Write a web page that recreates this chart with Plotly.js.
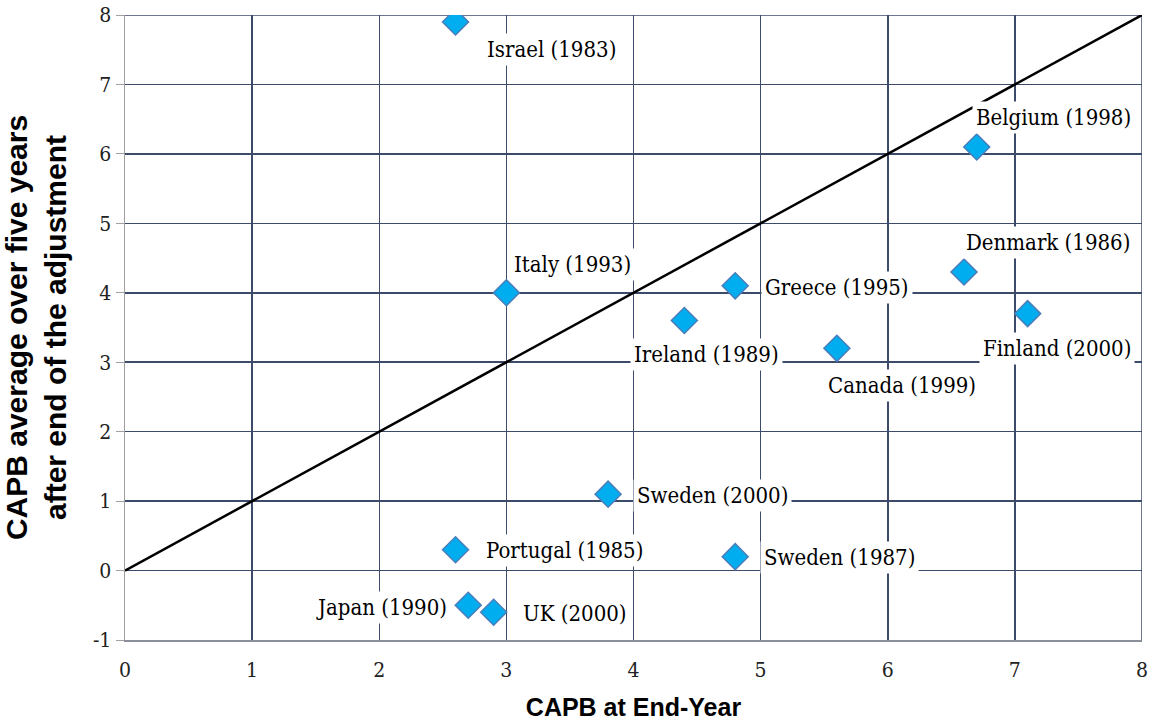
<!DOCTYPE html>
<html>
<head>
<meta charset="utf-8">
<script src="https://cdn.plot.ly/plotly-3.0.1.min.js"></script>
<style>
html,body{margin:0;padding:0;background:#fff;}
#chart{width:1150px;height:724px;}
</style>
</head>
<body>
<div id="chart"></div>
<script>
// ---- data ----
const countries = ["Israel (1983)","Belgium (1998)","Italy (1993)","Greece (1995)","Ireland (1989)","Denmark (1986)","Finland (2000)","Canada (1999)","Sweden (2000)","Portugal (1985)","Sweden (1987)","Japan (1990)","UK (2000)"];
const capbEndYear = [2.6, 6.7, 3.0, 4.8, 4.4, 6.6, 7.1, 5.6, 3.8, 2.6, 4.8, 2.7, 2.9];
const capbFiveYearAvg = [7.9, 6.1, 4.0, 4.1, 3.6, 4.3, 3.7, 3.2, 1.1, 0.3, 0.2, -0.5, -0.6];
const diagonalX = [0, 8];
const diagonalY = [0, 8];
const xTicks = [0,1,2,3,4,5,6,7,8];
const yTicks = [-1,0,1,2,3,4,5,6,7,8];

// ---- label placement (pixels relative to each marker) ----
const labelPlacement = [
  {anchor:"left",  dx: 27, dy: -28},
  {anchor:"left",  dx: -5, dy:  29},
  {anchor:"left",  dx:  4, dy:  28},
  {anchor:"left",  dx: 26, dy:  -2},
  {anchor:"center",dx: 22, dy: -34},
  {anchor:"left",  dx: -2, dy:  29},
  {anchor:"center",dx: 29, dy: -35},
  {anchor:"left",  dx:-13, dy: -37},
  {anchor:"left",  dx: 25, dy:  -1},
  {anchor:"left",  dx: 26, dy:  -1},
  {anchor:"left",  dx: 25, dy:  -1},
  {anchor:"right", dx:-17, dy:  -2},
  {anchor:"left",  dx: 25, dy:  -1}
];

const serifFamily = "'DejaVu Serif Condensed','DejaVu Serif',serif";
const labelFont = {family:serifFamily, size:22, color:"#000"};
const gridColor = "#3d4b6b";

const traces = [
  {
    x: diagonalX, y: diagonalY, type:"scatter", mode:"lines",
    line:{color:"#000", width:2.5}, hoverinfo:"skip", showlegend:false
  },
  {
    x: capbEndYear, y: capbFiveYearAvg, text: countries, type:"scatter", mode:"markers",
    marker:{symbol:"diamond", size:20, color:"#00aeef", line:{color:"#4a7ebb", width:1.5}},
    showlegend:false
  }
];

const annotations = countries.map((c,i)=>({
  x: capbEndYear[i], y: capbFiveYearAvg[i], xref:"x", yref:"y",
  text: c, showarrow:false,
  xanchor: labelPlacement[i].anchor, yanchor:"middle",
  xshift: labelPlacement[i].dx, yshift: labelPlacement[i].dy,
  bgcolor:"#ffffff", borderpad:3,
  font: labelFont
}));

const layout = {
  width:1150, height:724,
  margin:{l:125, r:8, t:15, b:84},
  paper_bgcolor:"#fff", plot_bgcolor:"#fff",
  showlegend:false,
  xaxis:{
    range:[0,8], tickvals:xTicks, ticktext:xTicks.map(String),
    showgrid:true, gridcolor:gridColor, gridwidth:1.5,
    zeroline:false, showline:true, linecolor:"#8a8f99", linewidth:1.5,
    ticks:"outside", ticklen:10, tickcolor:"rgba(0,0,0,0)",
    tickfont:{family:serifFamily, size:21, color:"#222"},
    title:{text:"CAPB at End-Year", standoff:18,
      font:{family:"Arial, 'Liberation Sans', sans-serif", size:25, color:"#000", weight:"bold"}},
    fixedrange:true
  },
  yaxis:{
    range:[-1,8], tickvals:yTicks, ticktext:yTicks.map(String),
    showgrid:true, gridcolor:gridColor, gridwidth:1.5,
    zeroline:false, showline:true, linecolor:"#a0a0a0", linewidth:1.5,
    ticks:"outside", ticklen:8, tickcolor:"#a0a0a0", tickwidth:1,
    tickfont:{family:serifFamily, size:21, color:"#222"},
    title:{text:"CAPB average over five years<br>after end of the adjustment", standoff:18,
      font:{family:"Arial, 'Liberation Sans', sans-serif", size:30, color:"#000", weight:"bold"}},
    fixedrange:true
  },
  annotations: annotations,
  shapes:[
    {type:"line", xref:"x", yref:"y", x0:8, x1:8, y0:-1, y1:8, line:{color:gridColor, width:1.5}, layer:"below"},
    {type:"line", xref:"x", yref:"y", x0:0, x1:8, y0:8, y1:8, line:{color:gridColor, width:1.5}, layer:"below"}
  ]
};

Plotly.newPlot("chart", traces, layout, {displayModeBar:false, staticPlot:true});
</script>
</body>
</html>
